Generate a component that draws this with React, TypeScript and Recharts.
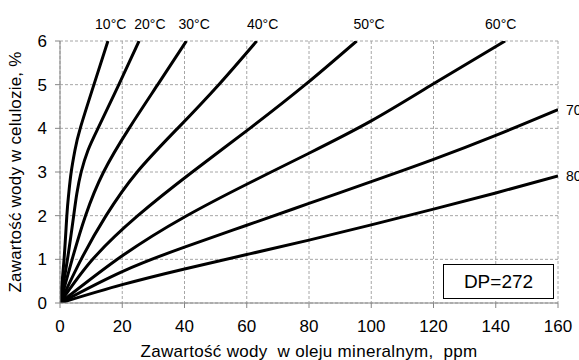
import React from 'react';
import { LineChart, Line, XAxis, YAxis, CartesianGrid, ReferenceDot } from 'recharts';

const FONT = '"Liberation Sans", Arial, sans-serif';

const xTicks = [0, 20, 40, 60, 80, 100, 120, 140, 160];
const yTicks = [0, 1, 2, 3, 4, 5, 6];

// water in oil (ppm) against water in cellulose (%), one isotherm per temperature
const ppm10 = [0, 1.3, 2.2, 2.8, 3.6, 4.8, 6.5, 10.9, 15.4];
const wc10 = [0, 1, 2, 2.5, 3, 3.5, 4, 5, 6];

const ppm20 = [0, 2.4, 4.4, 5.4, 6.8, 9.0, 12.2, 18.9, 25.4];
const wc20 = [0, 1, 2, 2.5, 3, 3.5, 4, 5, 6];

const ppm30 = [0, 3.9, 8.2, 14.0, 22.2, 31.4, 40.6];
const wc30 = [0, 1, 2, 3, 4, 5, 6];

const ppm40 = [0, 6.8, 14.8, 24.8, 37.8, 51, 63.2];
const wc40 = [0, 1, 2, 3, 4, 5, 6];

const ppm50 = [0, 10.5, 25, 42.5, 61, 78.8, 95.3];
const wc50 = [0, 1, 2, 3, 4, 5, 6];

const ppm60 = [0, 20, 40, 60, 80, 100, 120, 143];
const wc60 = [0, 1.08, 1.97, 2.72, 3.43, 4.17, 5.02, 6];

const ppm70 = [0, 20, 40, 60, 80, 100, 120, 140, 160];
const wc70 = [0, 0.72, 1.28, 1.78, 2.28, 2.78, 3.29, 3.84, 4.43];

const ppm80 = [0, 20, 40, 60, 80, 100, 120, 140, 160];
const wc80 = [0, 0.42, 0.78, 1.11, 1.44, 1.79, 2.15, 2.52, 2.91];

// labels above the top edge (x in ppm) for the curves that leave through y = 6
const topLabels = ['10°C', '20°C', '30°C', '40°C', '50°C', '60°C'];
const topLabelPpm = [16.3, 28.9, 43.1, 65.1, 99.3, 141.6];

const sideLabels = ['70°C', '80°C'];

const toPoints = (xs: number[], ys: number[]) => xs.map((x, i) => ({ x, y: ys[i] }));

const series = [
  { name: '10°C', data: toPoints(ppm10, wc10) },
  { name: '20°C', data: toPoints(ppm20, wc20) },
  { name: '30°C', data: toPoints(ppm30, wc30) },
  { name: '40°C', data: toPoints(ppm40, wc40) },
  { name: '50°C', data: toPoints(ppm50, wc50) },
  { name: '60°C', data: toPoints(ppm60, wc60) },
  { name: '70°C', data: toPoints(ppm70, wc70) },
  { name: '80°C', data: toPoints(ppm80, wc80) },
];

const sideEnds = [series[6].data[series[6].data.length - 1], series[7].data[series[7].data.length - 1]];

const tickStyle = { fontSize: 17, fill: '#000', fontFamily: FONT };

const YTitle = (props: any) => {
  const vb = props.viewBox;
  const cy = vb.y + vb.height / 2;
  return (
    <text
      x={15}
      y={cy}
      transform={`rotate(-90 15 ${cy})`}
      textAnchor="middle"
      dominantBaseline="central"
      fontSize={17}
      letterSpacing={0.2}
      fontFamily={FONT}
      fill="#000"
    >
      Zawartość wody w celulozie, %
    </text>
  );
};

const XTitle = (props: any) => {
  const vb = props.viewBox;
  const cx = vb.x + vb.width / 2;
  return (
    <text
      x={cx}
      y={vb.y + vb.height - 3}
      textAnchor="middle"
      fontSize={17}
      letterSpacing={0.3}
      fontFamily={FONT}
      fill="#000"
      style={{ whiteSpace: 'pre' }}
    >
      {'Zawartość wody  w oleju mineralnym,  ppm'}
    </text>
  );
};

export default function App() {
  return (
    <div style={{ position: 'absolute', left: 0, top: 0, width: 579, height: 360, overflow: 'hidden', background: '#fff' }}>
      <LineChart width={579} height={360} margin={{ top: 41, right: 21, bottom: 0, left: 0 }}>
        <CartesianGrid stroke="#a6a6a6" strokeDasharray="3 2" />
        <XAxis
          type="number"
          dataKey="x"
          domain={[0, 160]}
          ticks={xTicks}
          allowDataOverflow
          height={57}
          stroke="#868686"
          tickSize={5}
          tickMargin={12}
          tick={tickStyle}
          label={{ content: XTitle }}
        />
        <YAxis
          type="number"
          dataKey="y"
          domain={[0, 6]}
          ticks={yTicks}
          allowDataOverflow
          width={60}
          stroke="#868686"
          tickSize={5}
          tickMargin={8}
          tick={tickStyle}
          label={{ content: YTitle }}
        />
        {series.map((s) => (
          <Line
            key={s.name}
            data={s.data}
            dataKey="y"
            name={s.name}
            type="natural"
            stroke="#000"
            strokeWidth={3}
            dot={false}
            activeDot={false}
            isAnimationActive={false}
          />
        ))}
        {topLabels.map((t, i) => (
          <ReferenceDot
            key={t}
            x={topLabelPpm[i]}
            y={6}
            r={0}
            fill="none"
            stroke="none"
            label={{ value: t, position: 'top', offset: 12, fontSize: 14, fill: '#000', fontFamily: FONT }}
          />
        ))}
        {sideLabels.map((t, i) => (
          <ReferenceDot
            key={t}
            x={sideEnds[i].x}
            y={sideEnds[i].y}
            r={0}
            fill="none"
            stroke="none"
            label={{ value: t, position: 'right', offset: 8, fontSize: 14, fill: '#000', fontFamily: FONT }}
          />
        ))}
      </LineChart>
      <div
        style={{
          position: 'absolute',
          left: 443,
          top: 264,
          width: 111,
          height: 35,
          boxSizing: 'border-box',
          border: '1.5px solid #000',
          background: '#fff',
          display: 'flex',
          alignItems: 'center',
          justifyContent: 'center',
          fontFamily: FONT,
          fontSize: 19,
          color: '#000',
        }}
      >
        DP=272
      </div>
    </div>
  );
}
